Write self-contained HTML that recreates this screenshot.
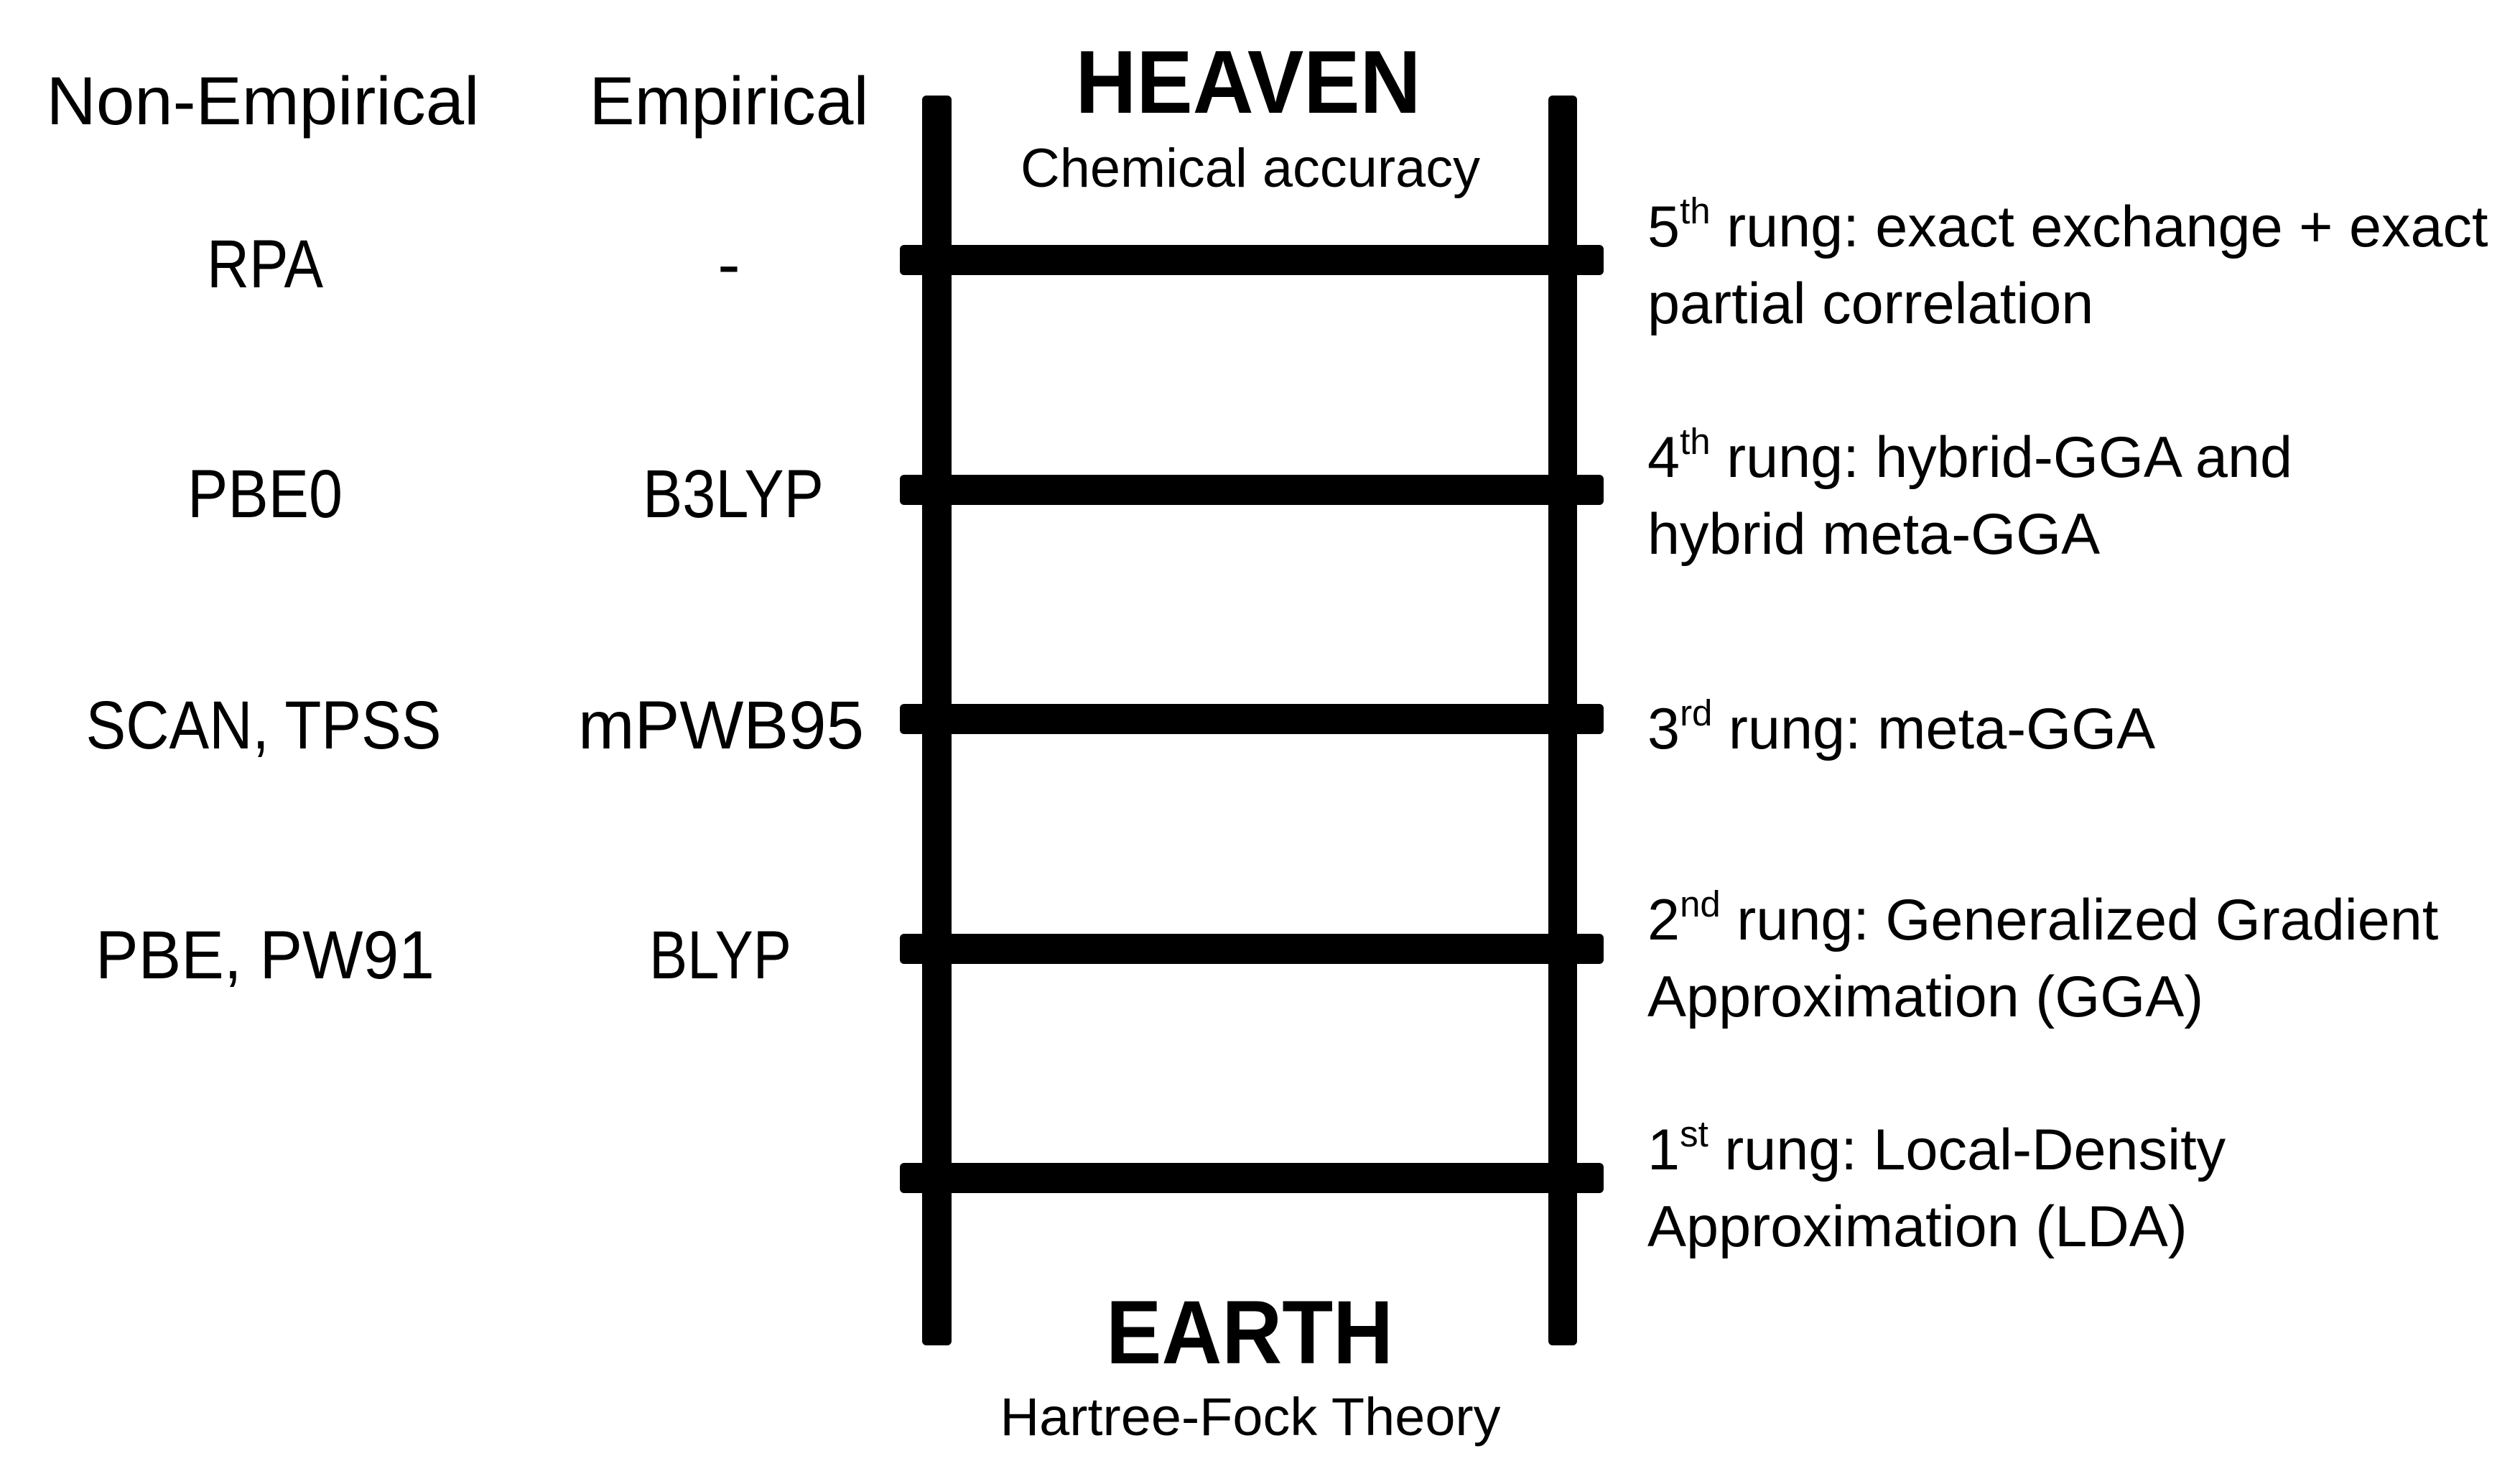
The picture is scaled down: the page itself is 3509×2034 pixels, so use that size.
<!DOCTYPE html>
<html><head><meta charset="utf-8"><style>html,body{margin:0;padding:0;background:#fff}svg{display:block}</style></head>
<body>
<svg width="3509" height="2034" viewBox="0 0 3509 2034" xmlns="http://www.w3.org/2000/svg">
<rect width="3509" height="2034" fill="#fff"/>
<g fill="#000">
<rect x="1284" y="133" width="41" height="1740" rx="6"/>
<rect x="2156" y="133" width="40" height="1740" rx="6"/>
<rect x="1253" y="341" width="980" height="42" rx="6"/>
<rect x="1253" y="661" width="980" height="42" rx="6"/>
<rect x="1253" y="980" width="980" height="42" rx="6"/>
<rect x="1253" y="1300" width="980" height="42" rx="6"/>
<rect x="1253" y="1619" width="980" height="42" rx="6"/>
</g>
<g font-family="Liberation Sans, Arial, sans-serif" fill="#000" text-anchor="middle">
<text x="1738" y="157" font-size="124" font-weight="bold" textLength="481" lengthAdjust="spacingAndGlyphs">HEAVEN</text>
<text x="1741" y="260" font-size="76" textLength="640" lengthAdjust="spacingAndGlyphs">Chemical accuracy</text>
<text x="1740" y="1898" font-size="125" font-weight="bold" textLength="400" lengthAdjust="spacingAndGlyphs">EARTH</text>
<text x="1741" y="1998" font-size="74" textLength="697" lengthAdjust="spacingAndGlyphs">Hartree-Fock Theory</text>
</g>
<g font-family="Liberation Sans, Arial, sans-serif" fill="#000" text-anchor="middle" font-size="95">
<text x="366" y="173" textLength="603" lengthAdjust="spacingAndGlyphs">Non-Empirical</text>
<text x="1015" y="173" textLength="389" lengthAdjust="spacingAndGlyphs">Empirical</text>
<text x="369" y="400" textLength="162" lengthAdjust="spacingAndGlyphs">RPA</text>
<text x="1015" y="400">-</text>
<text x="369" y="720" textLength="216" lengthAdjust="spacingAndGlyphs">PBE0</text>
<text x="1021" y="720" textLength="252" lengthAdjust="spacingAndGlyphs">B3LYP</text>
<text x="367" y="1042" textLength="495" lengthAdjust="spacingAndGlyphs">SCAN, TPSS</text>
<text x="1004" y="1042" textLength="398" lengthAdjust="spacingAndGlyphs">mPWB95</text>
<text x="369" y="1362" textLength="472" lengthAdjust="spacingAndGlyphs">PBE, PW91</text>
<text x="1003" y="1362" textLength="198" lengthAdjust="spacingAndGlyphs">BLYP</text>
</g>
<g font-family="Liberation Sans, Arial, sans-serif" fill="#000" font-size="81">
<text x="2294" y="343">5<tspan font-size="51" dy="-32">th</tspan><tspan dy="32"> rung: exact exchange + exact</tspan></text>
<text x="2294" y="450">partial correlation</text>
<text x="2294" y="664">4<tspan font-size="51" dy="-32">th</tspan><tspan dy="32"> rung: hybrid-GGA and</tspan></text>
<text x="2294" y="771">hybrid meta-GGA</text>
<text x="2294" y="1042">3<tspan font-size="51" dy="-32">rd</tspan><tspan dy="32"> rung: meta-GGA</tspan></text>
<text x="2294" y="1308">2<tspan font-size="51" dy="-32">nd</tspan><tspan dy="32"> rung: Generalized Gradient</tspan></text>
<text x="2294" y="1415">Approximation (GGA)</text>
<text x="2294" y="1628">1<tspan font-size="51" dy="-32">st</tspan><tspan dy="32"> rung: Local-Density</tspan></text>
<text x="2294" y="1735">Approximation (LDA)</text>
</g>
</svg>
</body></html>
